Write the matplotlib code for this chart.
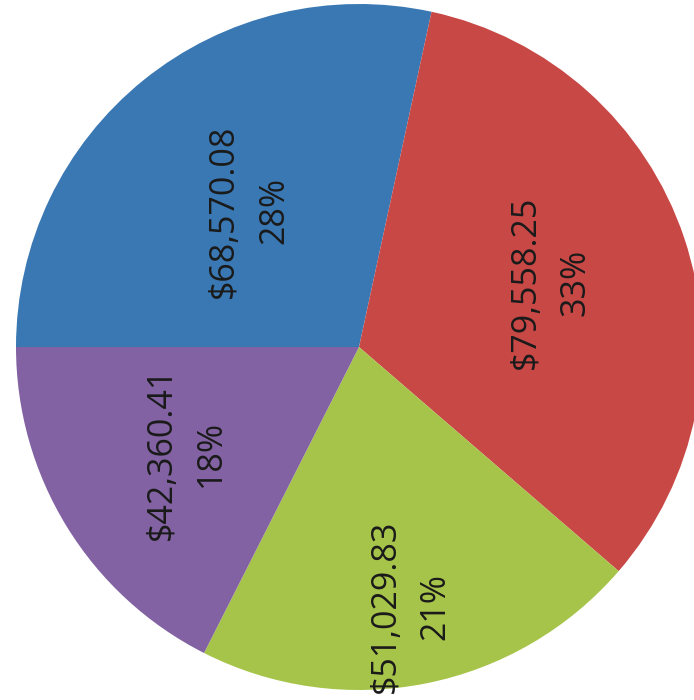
import matplotlib
matplotlib.use("Agg")
import matplotlib.pyplot as plt
import numpy as np

# slice values, in drawing order (clockwise from the left)
amounts = [68570.08, 79558.25, 51029.83, 42360.41]
colors = ["#3a78b4", "#c84846", "#a7c44a", "#8262a2"]
label_dist = [0.51, 0.59, 0.77, 0.59]     # Excel "best fit" label radii

W, H = 694, 700
cx, cy, R = 359, 347, 343                 # pie centre / radius in pixels (from top-left)

fig = plt.figure(figsize=(W / 100, H / 100), dpi=100)
fig.patch.set_facecolor("white")
ax = fig.add_axes([0, 0, 1, 1])

wedges, _ = ax.pie(amounts, colors=colors, startangle=180, counterclock=False,
                   radius=1.0, wedgeprops=dict(edgecolor="none", linewidth=0))

total = sum(amounts)
for w, v, d in zip(wedges, amounts, label_dist):
    mid = np.deg2rad(0.5 * (w.theta1 + w.theta2))
    txt = f"${v:,.2f}\n{v / total * 100:.0f}%"
    ax.text(d * np.cos(mid), d * np.sin(mid), txt, rotation=90, ha="center", va="center",
            multialignment="center", fontsize=24.5, color="#1a1a1a", family="Open Sans",
            linespacing=1.6)

ax.set_xlim(-cx / R, (W - cx) / R)
ax.set_ylim(-(H - cy) / R, cy / R)
ax.set_aspect("equal", adjustable="box")
ax.axis("off")

fig.savefig("out.png", dpi=100, facecolor=fig.get_facecolor())
